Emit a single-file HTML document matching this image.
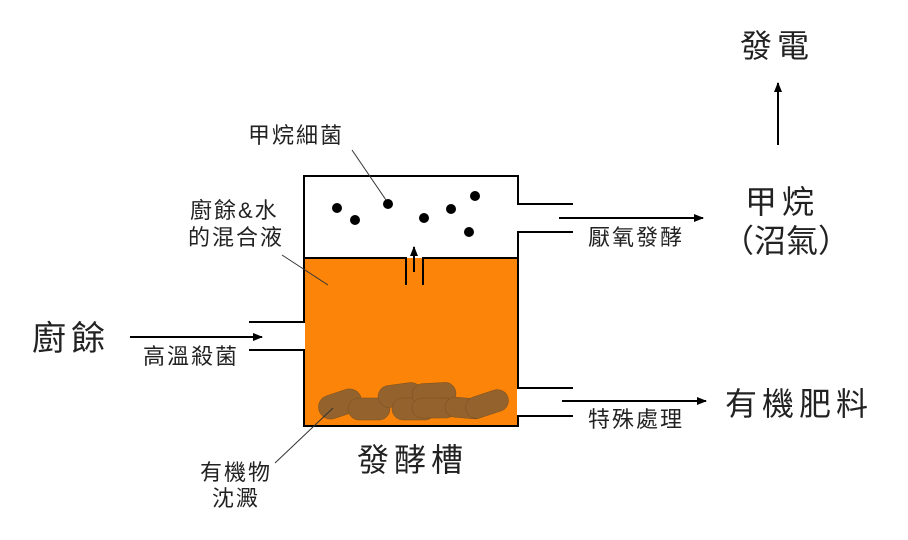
<!DOCTYPE html>
<html><head><meta charset="utf-8"><style>
html,body{margin:0;padding:0;background:#fff}
svg{display:block}
text{font-family:"Liberation Sans","Noto Sans CJK TC",sans-serif;fill:#222}
.s{font-size:22px;letter-spacing:2px}
.l{font-size:32px;letter-spacing:5px}
</style></head><body>
<svg width="908" height="540" viewBox="0 0 908 540">
<defs>
<marker id="ah" markerWidth="10" markerHeight="8" refX="9" refY="4" orient="auto" markerUnits="userSpaceOnUse">
<path d="M0,0 L10,4 L0,8 z" fill="#000"/></marker>
</defs>
<rect x="305" y="258" width="212" height="167" fill="#fb8409"/>
<g fill="#94622c" stroke="#7a5020" stroke-width="0.5">
<rect x="318" y="392" width="44" height="24" rx="12" transform="rotate(-18 340 404)"/>
<rect x="348" y="398" width="42" height="22" rx="11"/>
<rect x="378" y="384" width="44" height="22" rx="11" transform="rotate(-8 400 395)"/>
<rect x="392" y="398" width="44" height="22" rx="11"/>
<rect x="412" y="383" width="44" height="22" rx="11" transform="rotate(-3 434 394)"/>
<rect x="412" y="398" width="44" height="20" rx="10"/>
<rect x="445" y="398" width="40" height="20" rx="10" transform="rotate(5 465 408)"/>
<rect x="465" y="393" width="44" height="22" rx="11" transform="rotate(-18 487 404)"/>
</g>
<g stroke="#000" stroke-width="2" fill="none">
<polyline points="249,322 304,322 304,176 518,176 518,204 573,204"/>
<polyline points="249,350 304,350 304,426 518,426 518,416 573,416"/>
<polyline points="573,232 518,232 518,388 573,388"/>
<polyline points="304,258 406,258 406,285"/>
<polyline points="518,258 423,258 423,285"/>
</g>
<line x1="414" y1="272" x2="414" y2="247" stroke="#000" stroke-width="2" marker-end="url(#ah)"/>
<line x1="130" y1="337" x2="262" y2="337" stroke="#000" stroke-width="2" marker-end="url(#ah)"/>
<line x1="559" y1="218" x2="703" y2="218" stroke="#000" stroke-width="2" marker-end="url(#ah)"/>
<line x1="562" y1="401" x2="706" y2="401" stroke="#000" stroke-width="2" marker-end="url(#ah)"/>
<line x1="778" y1="145" x2="778" y2="83" stroke="#000" stroke-width="2" marker-end="url(#ah)"/>
<g fill="#000">
<circle cx="337" cy="208" r="5"/><circle cx="355" cy="220" r="5"/><circle cx="388" cy="204" r="5"/>
<circle cx="424" cy="218" r="5"/><circle cx="451" cy="209" r="5"/><circle cx="475" cy="196" r="5"/>
<circle cx="469" cy="232" r="5"/>
</g>
<g stroke="#333" stroke-width="1">
<line x1="352" y1="150" x2="386" y2="200"/>
<line x1="282" y1="255" x2="328" y2="285"/>
<line x1="275" y1="463" x2="333" y2="408"/>
</g>
<text x="32" y="350" class="l" style="font-size:34px">廚餘</text>
<text x="143" y="364" class="s">高溫殺菌</text>
<text x="190" y="218" class="s">廚餘&amp;水</text>
<text x="188" y="245" class="s">的混合液</text>
<text x="248" y="143" class="s">甲烷細菌</text>
<text x="357" y="471" class="l">發酵槽</text>
<text x="200" y="480" class="s">有機物</text>
<text x="212" y="506" class="s">沈澱</text>
<text x="740" y="57" class="l">發電</text>
<text x="745" y="213" class="l">甲烷</text>
<text x="722" y="252" class="l" style="letter-spacing:0">（沼氣）</text>
<text x="588" y="245" class="s">厭氧發酵</text>
<text x="725" y="415" class="l">有機肥料</text>
<text x="588" y="427" class="s">特殊處理</text>
</svg>
</body></html>
